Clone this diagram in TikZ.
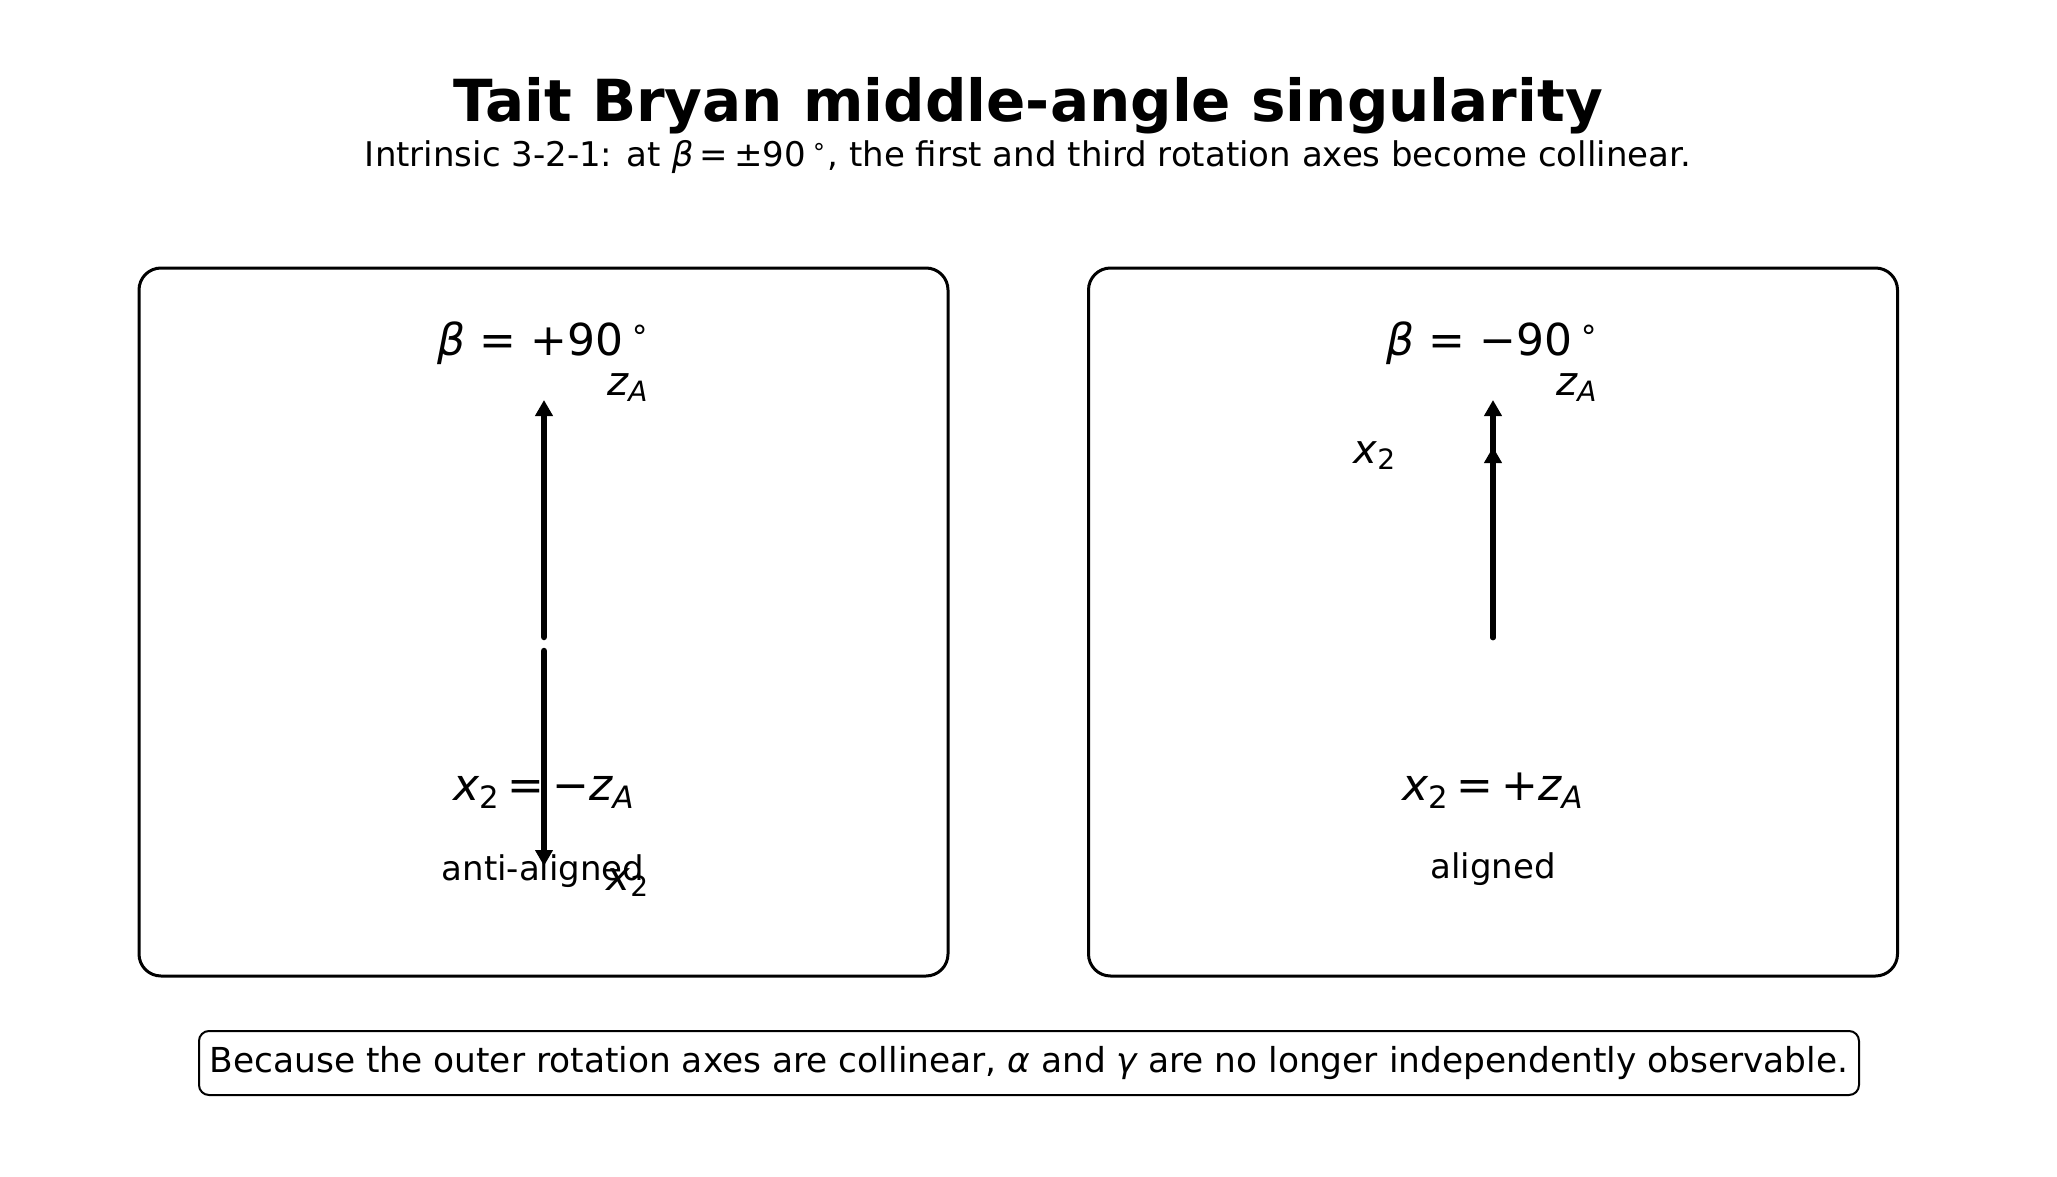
\documentclass[tikz,border=0pt]{standalone}
\usepackage{fontspec}
\setmainfont{DejaVu Sans}
\usetikzlibrary{arrows.meta}

\newcommand{\vsym}[2]{{\itshape #1}\textsubscript{#2}}
\newcommand{\degsym}{\,\textsuperscript{∘}}
\newcommand{\eqsym}[1]{\hspace{0.18em}#1\hspace{0.18em}}

\begin{document}
\begin{tikzpicture}[x=0.5pt, y=-0.5pt,
  panel/.style={draw, line width=1.5pt, rounded corners=11pt, minimum width=404.5pt, minimum height=354pt},
  axis/.style={line width=3.25pt, line cap=round, -{Triangle[length=8pt, width=8.5pt]}, shorten <=3.5pt},
  big/.style={anchor=base, font=\fontsize{22}{26}\selectfont},
  small/.style={anchor=base, font=\fontsize{17}{20}\selectfont},
  lab/.style={anchor=base, font=\fontsize{20}{24}\selectfont}]
\useasboundingbox (0,0) rectangle (2057,1177);

\node[anchor=base, font=\fontsize{29}{35}\selectfont\bfseries] (T) at (1028,122) {Tait Bryan middle-angle singularity};
\node[small] (S) at (1028,167) {Intrinsic 3-2-1: at {\itshape β}\eqsym{=}±90\degsym, the first and third rotation axes become collinear.};

\node[panel] (PL) at (543.5,622) {};
\node[panel] (PR) at (1493,622) {};

% left panel
\coordinate (OL) at (544,644);
\coordinate (ZL) at (544,400);
\coordinate (XL) at (544,866);
\draw[axis] (OL) -- (ZL);
\draw[axis] (OL) -- (XL);
\node[big] (BL) at (544,355) {{\itshape β} = +90\degsym};
\node[lab] (ZLl) at (628,395) {\vsym{z}{\itshape A}};
\node[lab] (XLl) at (628,890) {\vsym{x}{2}};
\node[big] (RL) at (544,800) {\vsym{x}{2}\eqsym{=}−\vsym{z}{\itshape A}};
\node[small] (AL) at (543,880) {anti-aligned};

% right panel
\coordinate (OR) at (1493,644);
\coordinate (ZR) at (1493,400);
\coordinate (XR) at (1493,447);
\draw[axis] (OR) -- (ZR);
\draw[axis] (OR) -- (XR);
\node[big] (BR) at (1493,355) {{\itshape β} = −90\degsym};
\node[lab] (ZRl) at (1577,395) {\vsym{z}{\itshape A}};
\node[lab] (XRl) at (1375,463) {\vsym{x}{2}};
\node[big] (RR) at (1493,800) {\vsym{x}{2}\eqsym{=}+\vsym{z}{\itshape A}};
\node[small] (AR) at (1493,878) {aligned};

\node[draw, line width=1pt, rounded corners=5pt, minimum width=830pt, minimum height=32pt, font=\fontsize{17.2}{20}\selectfont] (N) at (1029,1063)
  {Because the outer rotation axes are collinear, {\itshape α} and {\itshape γ} are no longer independently observable.};
\end{tikzpicture}
\end{document}
